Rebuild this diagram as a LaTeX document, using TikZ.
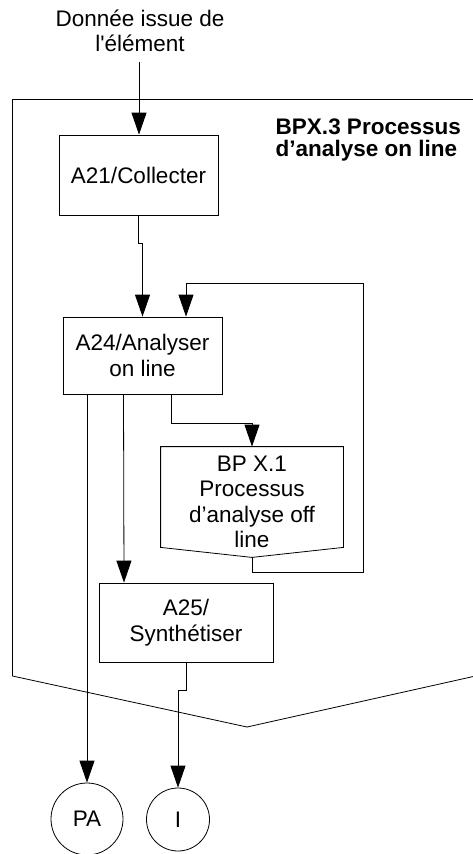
\documentclass[tikz,border=0pt]{standalone}
\usepackage{fontspec}
\setmainfont{Liberation Sans}
\usetikzlibrary{arrows.meta,calc}

\begin{document}
\begin{tikzpicture}[x=1pt,y=-1pt,>={Triangle[length=22pt,width=15pt]},line width=0.8pt,
  every node/.style={font=\fontsize{22.5}{25.5}\selectfont},
  act/.style={draw,rectangle,align=center,inner sep=0pt},
  ext/.style={draw,circle,inner sep=0pt}]
\useasboundingbox (0,0) rectangle (473,854);
% cadre du processus
\draw (480,99.5) -- (12.5,99.5) -- (12.5,676) -- (247,727) -- (480,675);
\node[align=left,anchor=north west,font=\bfseries\fontsize{22.5}{22}\selectfont] (titre) at (272,115) {BPX.3 Processus\\d’analyse on line};
\node[align=center] (donnee) at (140,31) {Donnée issue de\\l{\addfontfeature{Ligatures=TeXOff}'}élément};
\coordinate (entree) at (139,62);
\node[act,minimum width=159pt,minimum height=80pt] (a21) at (138.5,175) {A21/Collecter};
\node[act,minimum width=159pt,minimum height=77pt] (a24) at (142.5,355.5) {A24/Analyser\\on line};
\node[align=center,minimum width=182pt,minimum height=110pt,inner sep=0pt] (bpx1) at (252,502) {BP X.1\\Processus\\d’analyse off\\line};
\draw (bpx1.north west) -- (bpx1.north east) -- ($(bpx1.south east)+(0,-10)$) -- (bpx1.south) -- ($(bpx1.south west)+(0,-10)$) -- cycle;
\node[act,minimum width=174pt,minimum height=79pt] (a25) at (186,622.5) {A25/\\Synthétiser};
\node[ext,minimum size=72pt] (pa) at (87,819) {PA};
\node[ext,minimum size=63pt] (i) at (178,819.5) {I};
\coordinate (retour) at (363,283);
% flux
\draw[->] (entree) -- (entree |- a21.north);
\draw[->] (a21.south) -- ++(0,28) -| (a24.north);
\draw[->] (bpx1.south) -- ++(0,15) -| (retour) -| ([xshift=43.5pt]a24.north);
\draw[->] ([xshift=28.5pt]a24.south) -- ++(0,29) -| (bpx1.north);
\draw[->] ([xshift=-19pt]a24.south) -- ([xshift=-62pt]a25.north);
\draw[->] (a24.south -| pa) -- (pa);
\draw[->] (a25.south) -- ++(0,28) -| (i);
\end{tikzpicture}
\end{document}
